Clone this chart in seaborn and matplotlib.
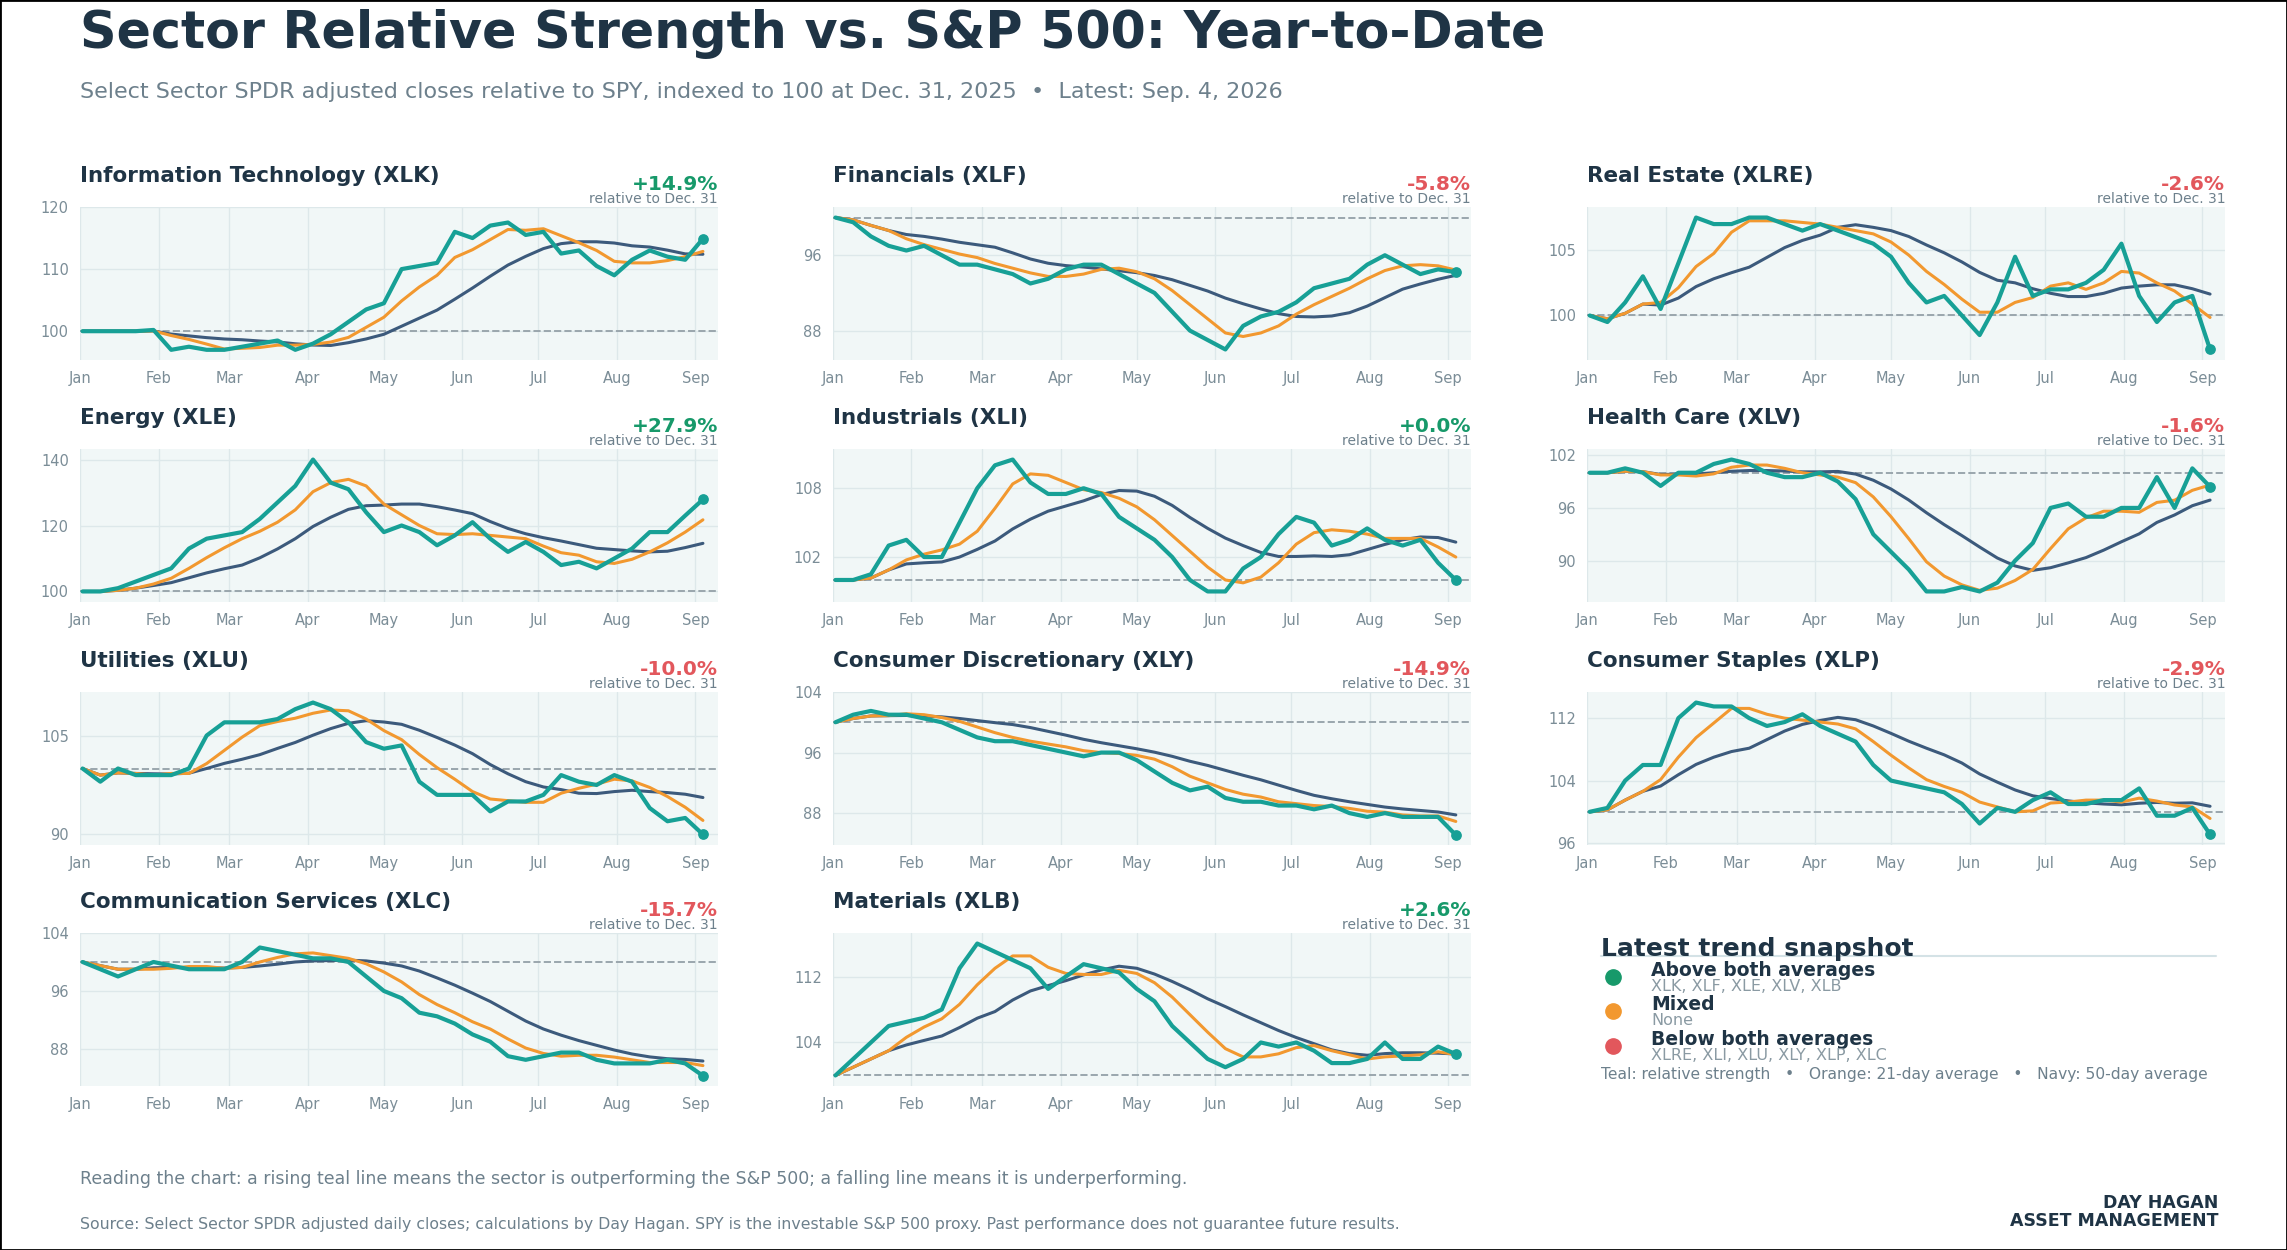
import matplotlib

matplotlib.use("Agg")
import matplotlib.pyplot as plt
import matplotlib.dates as mdates
from matplotlib.patches import Rectangle
import numpy as np
import pandas as pd
import seaborn as sns

# weekly Friday closes, relative strength vs SPY (Dec. 31 = 100)
DATES = pd.date_range("2026-01-02", "2026-09-04", freq="7D")

XLK = [100, 100, 100, 100, 100.2, 97, 97.5, 97, 97, 97.5, 98, 98.5, 97, 98, 99.5, 101.5, 103.5,
       104.5, 110, 110.5, 111, 116, 115, 117, 117.5, 115.5, 116, 112.5, 113, 110.5, 109,
       111.5, 113, 112, 111.5, 114.9]
XLF = [100, 99.5, 98, 97, 96.5, 97, 96, 95, 95, 94.5, 94, 93, 93.5, 94.5, 95, 95, 94,
       93, 92, 90, 88, 87, 86, 88.5, 89.5, 90, 91, 92.5, 93, 93.5, 95, 96, 95, 94, 94.5, 94.2]
XLRE = [100, 99.5, 101, 103, 100.5, 104, 107.5, 107, 107, 107.5, 107.5, 107, 106.5, 107, 106.5, 106, 105.5,
        104.5, 102.5, 101, 101.5, 100, 98.5, 101, 104.5, 101.5, 102, 102, 102.5, 103.5, 105.5,
        101.5, 99.5, 101, 101.5, 97.4]
XLE = [100, 100, 101, 103, 105, 107, 113, 116, 117, 118, 122, 127, 132, 140, 133, 131, 124,
       118, 120, 118, 114, 117, 121, 116, 112, 115, 112, 108, 109, 107, 110,
       113, 118, 118, 123, 127.9]
XLI = [100, 100, 100.5, 103, 103.5, 102, 102, 105, 108, 110, 110.5, 108.5, 107.5, 107.5, 108, 107.5, 105.5,
       104.5, 103.5, 102, 100, 99, 99, 101, 102, 104, 105.5, 105, 103, 103.5, 104.5,
       103.5, 103, 103.5, 101.5, 100]
XLV = [100, 100, 100.5, 100, 98.5, 100, 100, 101, 101.5, 101, 100, 99.5, 99.5, 100, 99, 97, 93,
       91, 89, 86.5, 86.5, 87, 86.5, 87.5, 90, 92, 96, 96.5, 95, 95, 96,
       96, 99.5, 96, 100.5, 98.4]
XLU = [100, 98, 100, 99, 99, 99, 100, 105, 107, 107, 107, 107.5, 109, 110, 109, 107, 104,
       103, 103.5, 98, 96, 96, 96, 93.5, 95, 95, 96, 99, 98, 97.5, 99,
       98, 94, 92, 92.5, 90]
XLY = [100, 101, 101.5, 101, 101, 100.5, 100, 99, 98, 97.5, 97.5, 97, 96.5, 96, 95.5, 96, 96,
       95, 93.5, 92, 91, 91.5, 90, 89.5, 89.5, 89, 89, 88.5, 89, 88, 87.5,
       88, 87.5, 87.5, 87.5, 85.1]
XLP = [100, 100.5, 104, 106, 106, 112, 114, 113.5, 113.5, 112, 111, 111.5, 112.5, 111, 110, 109, 106,
       104, 103.5, 103, 102.5, 101, 98.5, 100.5, 100, 101.5, 102.5, 101, 101, 101.5, 101.5,
       103, 99.5, 99.5, 100.5, 97.1]
XLC = [100, 99, 98, 99, 100, 99.5, 99, 99, 99, 100, 102, 101.5, 101, 100.5, 100.5, 100, 98,
       96, 95, 93, 92.5, 91.5, 90, 89, 87, 86.5, 87, 87.5, 87.5, 86.5, 86,
       86, 86, 86.5, 86, 84.3]
XLB = [100, 102, 104, 106, 106.5, 107, 108, 113, 116, 115, 114, 113, 110.5, 112, 113.5, 113, 112.5,
       110.5, 109, 106, 104, 102, 101, 102, 104, 103.5, 104, 103, 101.5, 101.5, 102,
       104, 102, 102, 103.5, 102.6]

TITLES = ["Information Technology (XLK)", "Financials (XLF)", "Real Estate (XLRE)",
          "Energy (XLE)", "Industrials (XLI)", "Health Care (XLV)",
          "Utilities (XLU)", "Consumer Discretionary (XLY)", "Consumer Staples (XLP)",
          "Communication Services (XLC)", "Materials (XLB)"]
SERIES = [XLK, XLF, XLRE, XLE, XLI, XLV, XLU, XLY, XLP, XLC, XLB]
PCT = ["+14.9%", "-5.8%", "-2.6%", "+27.9%", "+0.0%", "-1.6%", "-10.0%", "-14.9%", "-2.9%", "-15.7%", "+2.6%"]
YTICKS = [[100, 110, 120], [88, 96], [100, 105], [100, 120, 140], [102, 108], [90, 96, 102],
          [90, 105], [88, 96, 104], [96, 104, 112], [88, 96, 104], [104, 112]]

SNAP_LABELS = ["Above both averages", "Mixed", "Below both averages"]
SNAP_MEMBERS = ["XLK, XLF, XLE, XLV, XLB", "None", "XLRE, XLI, XLU, XLY, XLP, XLC"]

TEAL = "#17a096"
ORANGE = "#f2982f"
NAVY = "#3c5a7c"
DARK = "#1f3445"
GRAY = "#6d808c"
GREEN = "#17996a"
RED = "#e2575c"
SNAP_COLORS = [GREEN, ORANGE, RED]

sns.set_theme(style="white")
plt.rcParams["font.family"] = ["DejaVu Sans"]

fig = plt.figure(figsize=(22.87, 12.5), dpi=100)
fig.patches.append(Rectangle((0, 0), 1, 1, transform=fig.transFigure, fill=False,
                             edgecolor="black", linewidth=2))

fig.text(0.035, 0.973, "Sector Relative Strength vs. S&P 500: Year-to-Date", fontsize=36.5,
         fontweight="bold", color=DARK, va="center")
fig.text(0.035, 0.926, "Select Sector SPDR adjusted closes relative to SPY, indexed to 100 at Dec. 31, 2025  \u2022  Latest: Sep. 4, 2026",
         fontsize=16, color=GRAY, va="center")

lefts = [0.035, 0.3642, 0.694]
bottoms = [0.712, 0.5184, 0.324, 0.1312]
w, h = 0.279, 0.1224

for i, (title, vals, pct, yt) in enumerate(zip(TITLES, SERIES, PCT, YTICKS)):
    r, c = divmod(i, 3)
    ax = fig.add_axes([lefts[c], bottoms[r], w, h])
    df = pd.DataFrame({"date": DATES, "rs": vals})
    df["ma21"] = df["rs"].rolling(4, min_periods=1).mean()
    df["ma50"] = df["rs"].rolling(10, min_periods=1).mean()
    ax.set_facecolor("#f1f7f7")
    ax.axhline(100, color="#9aa6ad", linestyle="--", linewidth=1.4, zorder=1)
    sns.lineplot(data=df, x="date", y="ma50", ax=ax, color=NAVY, linewidth=2.2)
    sns.lineplot(data=df, x="date", y="ma21", ax=ax, color=ORANGE, linewidth=2.2)
    sns.lineplot(data=df, x="date", y="rs", ax=ax, color=TEAL, linewidth=3)
    ax.scatter(df["date"].iloc[-1], df["rs"].iloc[-1], color=TEAL, s=45, zorder=5)
    ax.set_xlim(pd.Timestamp("2026-01-01"), pd.Timestamp("2026-09-10"))
    lo = min(min(vals), 100)
    hi = max(max(vals), 100)
    pad = (hi - lo) * 0.08
    ax.set_ylim(lo - pad, hi + pad)
    ax.set_yticks(yt)
    ax.xaxis.set_major_locator(mdates.MonthLocator())
    ax.xaxis.set_major_formatter(mdates.DateFormatter("%b"))
    ax.grid(True, color="#dde8ea", linewidth=1)
    for s in ax.spines.values():
        s.set_visible(False)
    ax.tick_params(labelsize=10.5, labelcolor="#7b8d97", length=0, pad=8)
    ax.set_xlabel("")
    ax.set_ylabel("")
    ax.text(0, 1.2, title, transform=ax.transAxes, fontsize=15.5, fontweight="bold",
            color=DARK, va="center")
    ax.text(1, 1.15, pct, transform=ax.transAxes, fontsize=14.5, fontweight="bold",
            color=GREEN if pct.startswith("+") else RED, ha="right", va="center")
    ax.text(1, 1.055, "relative to Dec. 31", transform=ax.transAxes, fontsize=10,
            color=GRAY, ha="right", va="center")

# snapshot panel
fig.text(0.7, 0.2405, "Latest trend snapshot", fontsize=18, fontweight="bold", color=DARK, va="center")
fig.add_artist(plt.Line2D([0.7, 0.969], [0.2355, 0.2355], color="#d4e2e6", linewidth=1.5))
for k, (lab, mem, col) in enumerate(zip(SNAP_LABELS, SNAP_MEMBERS, SNAP_COLORS)):
    y = 0.2185 - k * 0.0275
    fig.add_artist(plt.Line2D([0.7055], [y], marker="o", markersize=11, color=col))
    fig.text(0.722, y + 0.005, lab, fontsize=13.5, fontweight="bold", color=DARK, va="center")
    fig.text(0.722, y - 0.0075, mem, fontsize=11.5, color="#8a9aa3", va="center")
fig.text(0.7, 0.1408, "Teal: relative strength   \u2022   Orange: 21-day average   \u2022   Navy: 50-day average",
         fontsize=11.2, color=GRAY, va="center")

fig.text(0.035, 0.0565, "Reading the chart: a rising teal line means the sector is outperforming the S&P 500; a falling line means it is underperforming.",
         fontsize=12.5, color=GRAY, va="center")
fig.text(0.035, 0.0205, "Source: Select Sector SPDR adjusted daily closes; calculations by Day Hagan. SPY is the investable S&P 500 proxy. Past performance does not guarantee future results.",
         fontsize=11.3, color=GRAY, va="center")
fig.text(0.97, 0.03, "DAY HAGAN\nASSET MANAGEMENT", fontsize=12.5, fontweight="bold", color=DARK,
         ha="right", va="center", linespacing=1.0)

fig.savefig("out.png", dpi=100)
